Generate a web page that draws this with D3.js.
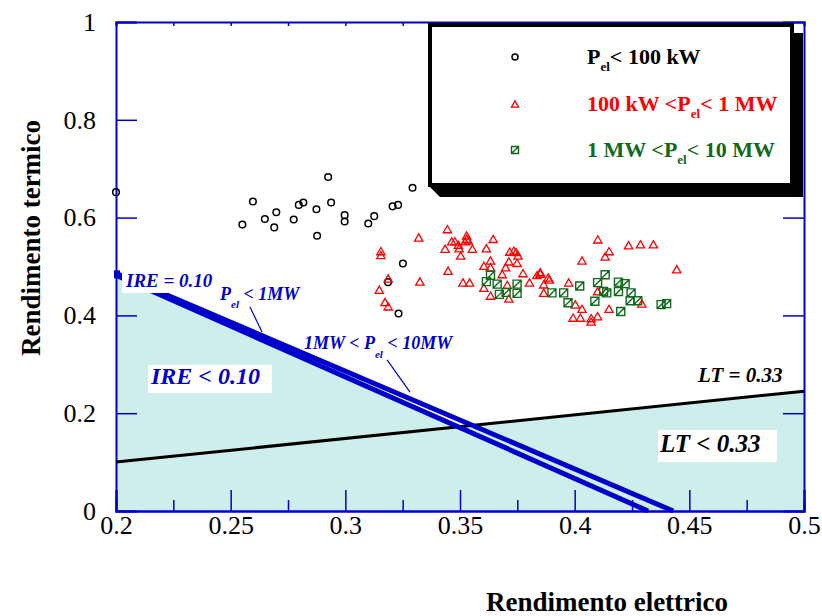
<!DOCTYPE html>
<html>
<head>
<meta charset="utf-8">
<script src="https://cdn.jsdelivr.net/npm/d3@7"></script>
<style>
  body { margin: 0; background: #fff; }
  svg text { font-family: "Liberation Serif", "Times New Roman", serif; }
</style>
</head>
<body>
<div id="chart"></div>
<script>
(function() {

    var width = 822;
    var height = 616;

    // --- data ---
    var xTicks = [0.2, 0.25, 0.3, 0.35, 0.4, 0.45, 0.5];
    var xMinor = [0.225, 0.275, 0.325, 0.375, 0.425, 0.475];
    var yTicks = [0, 0.2, 0.4, 0.6, 0.8, 1];

    var small = [ // P_el < 100 kW
        [0.200,0.652],[0.2925,0.683],[0.3293,0.661],[0.2597,0.633],[0.2817,0.631],
        [0.2797,0.626],[0.2938,0.631],[0.2874,0.617],[0.2699,0.611],[0.2649,0.597],
        [0.2775,0.596],[0.2997,0.605],[0.2997,0.592],[0.2551,0.586],[0.2690,0.580],
        [0.2877,0.563],[0.3126,0.603],[0.3100,0.588],[0.3206,0.623],[0.3230,0.626],
        [0.3251,0.506],[0.3186,0.468],[0.3232,0.404]
    ];

    var medium = [ // 100 kW < P_el < 1 MW
        [0.3445,0.576],[0.3320,0.559],[0.3435,0.536],[0.3464,0.551],[0.3478,0.551],
        [0.3493,0.544],[0.3496,0.537],[0.3529,0.563],[0.3529,0.556],[0.3536,0.553],
        [0.3522,0.551],[0.3503,0.522],[0.3554,0.536],[0.3645,0.556],[0.3615,0.537],
        [0.3448,0.491],[0.3513,0.467],[0.3542,0.467],[0.3633,0.512],[0.3633,0.498],
        [0.3604,0.501],[0.3717,0.530],[0.3735,0.532],[0.3745,0.529],[0.3753,0.522],
        [0.3749,0.507],[0.3713,0.510],[0.3699,0.498],[0.3684,0.484],[0.3775,0.486],
        [0.3803,0.467],[0.3706,0.462],[0.3633,0.440],[0.3713,0.434],[0.3836,0.482],
        [0.3155,0.531],[0.3155,0.523],[0.3187,0.475],[0.3325,0.469],[0.3148,0.452],
        [0.3173,0.427],[0.3187,0.418],[0.3850,0.488],[0.3850,0.485],[0.3865,0.463],
        [0.3884,0.477],[0.3890,0.473],[0.3974,0.467],[0.3865,0.446],[0.3604,0.456],
        [0.4101,0.555],[0.4150,0.531],[0.4133,0.520],[0.4032,0.512],[0.4235,0.543],
        [0.4287,0.545],[0.4343,0.545],[0.4445,0.494],[0.4032,0.413],[0.3993,0.395],
        [0.4025,0.395],[0.4072,0.394],[0.4100,0.398],[0.4072,0.387],[0.4150,0.413],
        [0.4100,0.449],[0.4003,0.422],[0.4293,0.424]
    ];

    var large = [ // 1 MW < P_el < 10 MW
        [0.3633,0.482],[0.3615,0.469],[0.3662,0.464],[0.3749,0.464],[0.3672,0.443],
        [0.3701,0.447],[0.3749,0.445],[0.3901,0.446],[0.3952,0.446],[0.3971,0.426],
        [0.4022,0.460],[0.4133,0.483],[0.4100,0.467],[0.4140,0.446],[0.4126,0.449],
        [0.4191,0.468],[0.4220,0.465],[0.4191,0.449],[0.4246,0.446],[0.4242,0.430],
        [0.4275,0.430],[0.4088,0.429],[0.4201,0.408],[0.4377,0.422],[0.4401,0.424]
    ];

    var ireLow = [[0.2, 0.482], [0.432, 0]];   // IRE = 0.10, P_el < 1MW
    var ireHigh = [[0.2, 0.486], [0.443, 0]];  // IRE = 0.10, 1MW < P_el < 10MW
    var ltLine = [[0.2, 0.1], [0.5, 0.245]];   // LT = 0.33

    var blue = "#0000cc";
    var red = "#ff0000";
    var green = "#0f6a1c";
    var shade = "#cdeeea";

    var svg = d3.select("#chart")
    .append("svg")
    .attr("width", width)
    .attr("height", height);

    var x = d3.scaleLinear().domain([0.2, 0.5]).range([116, 804]);
    var y = d3.scaleLinear().domain([0, 1]).range([511, 22]);

    // shaded zone: below the IRE line or below the LT line
    function lineAt(seg, v) {
        var a = seg[0], b = seg[1];
        return a[1] + (b[1] - a[1]) * (v - a[0]) / (b[0] - a[0]);
    }
    var sIre = (ireLow[1][1] - ireLow[0][1]) / (ireLow[1][0] - ireLow[0][0]);
    var sLt = (ltLine[1][1] - ltLine[0][1]) / (ltLine[1][0] - ltLine[0][0]);
    var cross = (ltLine[0][1] - ireLow[0][1] + sIre * ireLow[0][0] - sLt * ltLine[0][0]) / (sIre - sLt);
    var zone = [[0.2, 0], ireLow[0], [cross, lineAt(ltLine, cross)], ltLine[1], [0.5, 0]];

    svg.append("path")
    .attr("d", d3.line().x(d => x(d[0])).y(d => y(d[1]))(zone) + "Z")
    .attr("fill", shade);

    // axes
    function styleAxis(g) {
        g.selectAll("path.domain").attr("stroke", blue).attr("stroke-width", 2);
        g.selectAll(".tick line").attr("stroke", blue).attr("stroke-width", 1.5);
        g.selectAll("text")
        .attr("font-family", "Liberation Serif, serif")
        .attr("font-size", 26)
        .attr("fill", "#000");
    }

    svg.append("g")
    .attr("transform", "translate(0," + y(0) + ")")
    .call(d3.axisBottom(x).tickValues(xMinor).tickSize(-11).tickFormat(""))
    .call(styleAxis);

    svg.append("g")
    .attr("transform", "translate(0," + y(0) + ")")
    .call(d3.axisBottom(x).tickValues(xTicks).tickSize(-21).tickPadding(5).tickFormat(d => d))
    .call(styleAxis);

    svg.append("g")
    .attr("transform", "translate(0," + y(1) + ")")
    .call(d3.axisTop(x).tickValues(xTicks.concat(xMinor)).tickSize(-4).tickFormat(""))
    .call(styleAxis);

    svg.append("g")
    .attr("transform", "translate(" + x(0.2) + ",0)")
    .call(d3.axisLeft(y).tickValues(yTicks).tickSize(-21).tickPadding(20).tickFormat(d => d))
    .call(styleAxis);

    svg.append("g")
    .attr("transform", "translate(" + x(0.5) + ",0)")
    .call(d3.axisRight(y).tickValues(yTicks.slice(1, 4)).tickSize(-21).tickFormat(""))
    .call(styleAxis);

    // reference lines
    var line = d3.line().x(d => x(d[0])).y(d => y(d[1]));

    svg.append("path").attr("d", line(ltLine))
    .attr("stroke", "#000").attr("stroke-width", 3).attr("fill", "none");

    [ireLow, ireHigh].forEach(function(seg) {
        svg.append("path").attr("d", line(seg))
        .attr("stroke", blue).attr("stroke-width", 5).attr("fill", "none");
    });

    svg.append("rect")
    .attr("x", x(0.2) - 2).attr("y", y(ireHigh[0][1]) - 3)
    .attr("width", 6).attr("height", 8).attr("fill", blue);

    // annotations
    var sans = "Liberation Sans, Arial, sans-serif";
    var serif = "Liberation Serif, serif";

    function boxText(tx, ty, bx, by, bw, bh, str, size, fam, col) {
        svg.append("rect").attr("x", bx).attr("y", by).attr("width", bw).attr("height", bh).attr("fill", "#fff");
        svg.append("text").attr("x", tx).attr("y", ty)
        .attr("font-family", fam).attr("font-weight", "bold").attr("font-style", "italic")
        .attr("font-size", size).attr("fill", col).text(str);
    }

    boxText(126, 287, 122, 271, 96, 22, "IRE = 0.10", 19, sans, blue);
    boxText(151, 384, 148, 365, 124, 28, "IRE  < 0.10", 24, sans, blue);
    boxText(660, 452, 658, 430, 119, 32, "LT < 0.33", 25, serif, "#000");

    svg.append("text").attr("x", 698).attr("y", 382)
    .attr("font-family", serif).attr("font-weight", "bold").attr("font-style", "italic")
    .attr("font-size", 21).text("LT = 0.33");

    function subLabel(tx, ty, parts, size) {
        var t = svg.append("text").attr("x", tx).attr("y", ty)
        .attr("font-family", sans).attr("font-weight", "bold").attr("font-style", "italic")
        .attr("font-size", size).attr("fill", blue);
        parts.forEach(function(p) {
            t.append("tspan").attr("dy", p[1]).attr("font-size", p[2] || size).text(p[0]);
        });
    }
    subLabel(220, 300, [["P", 0], ["el", 8, 11], [" < 1MW", -8]], 18);
    subLabel(304, 349, [["1MW < P", 0], ["el", 9, 11], ["  < 10MW", -9]], 18);

    var leaders = [[[0.2584, 0.417], [0.2637, 0.366]], [[0.3182, 0.309], [0.3282, 0.243]]];
    leaders.forEach(function(seg) {
        svg.append("path").attr("d", line(seg)).attr("stroke", blue).attr("stroke-width", 1.2);
    });

    // markers
    var tri = d3.symbol().type(d3.symbolTriangle).size(30);

    function squarePath(s) {
        return "M" + (-s) + "," + (-s) + "h" + (2 * s) + "v" + (2 * s) + "h" + (-2 * s) + "Z" +
            "M" + (-s) + "," + s + "L" + s + "," + (-s);
    }

    svg.append("g").selectAll("circle")
    .data(small)
    .enter().append("circle")
    .attr("cx", d => x(d[0])).attr("cy", d => y(d[1]))
    .attr("r", 3.3)
    .attr("fill", "none").attr("stroke", "#000").attr("stroke-width", 1.5);

    svg.append("g").selectAll("path")
    .data(medium)
    .enter().append("path")
    .attr("d", tri)
    .attr("transform", d => "translate(" + x(d[0]) + "," + (y(d[1]) + 1) + ")")
    .attr("fill", "none").attr("stroke", red).attr("stroke-width", 1.3);

    svg.append("g").selectAll("path")
    .data(large)
    .enter().append("path")
    .attr("d", squarePath(4))
    .attr("transform", d => "translate(" + x(d[0]) + "," + y(d[1]) + ")")
    .attr("fill", "none").attr("stroke", green).attr("stroke-width", 1.4);

    // legend
    svg.append("path")
    .attr("d", "M438,33 L803,33 L803,197 L440,197 L430,187 L438,187 Z")
    .attr("fill", "#000");
    svg.append("rect")
    .attr("x", 430).attr("y", 25).attr("width", 362).attr("height", 160)
    .attr("fill", "#fff").attr("stroke", "#000").attr("stroke-width", 4);

    var legendRows = [
        {color: "#000", kind: "circle", parts: [["P", 0], ["el", 7, 13], ["< 100 kW", -7]]},
        {color: red, kind: "tri", parts: [["100 kW <P", 0], ["el", 7, 13], ["< 1 MW", -7]]},
        {color: green, kind: "square", parts: [["1 MW <P", 0], ["el", 7, 13], ["< 10 MW", -7]]}
    ];
    var rowY = [57, 104, 150];

    legendRows.forEach(function(r, i) {
        var cy = rowY[i];
        if (r.kind === "circle") {
            svg.append("circle").attr("cx", 515).attr("cy", cy).attr("r", 3)
            .attr("fill", "none").attr("stroke", r.color).attr("stroke-width", 1.5);
        } else if (r.kind === "tri") {
            svg.append("path").attr("d", d3.symbol().type(d3.symbolTriangle).size(22))
            .attr("transform", "translate(515," + (cy + 1) + ")")
            .attr("fill", "none").attr("stroke", r.color).attr("stroke-width", 1.3);
        } else {
            svg.append("path").attr("d", squarePath(3.5))
            .attr("transform", "translate(515," + cy + ")")
            .attr("fill", "none").attr("stroke", r.color).attr("stroke-width", 1.4);
        }
        var t = svg.append("text").attr("x", 587).attr("y", cy + 7)
        .attr("font-weight", "bold").attr("font-size", 22).attr("fill", r.color);
        r.parts.forEach(function(p) {
            t.append("tspan").attr("dy", p[1]).attr("font-size", p[2] || 22).text(p[0]);
        });
    });

    // axis titles
    svg.append("text")
    .attr("x", 607).attr("y", 611)
    .attr("text-anchor", "middle")
    .attr("font-weight", "bold").attr("font-size", 27)
    .text("Rendimento elettrico");

    svg.append("text")
    .attr("transform", "translate(40,238) rotate(-90)")
    .attr("text-anchor", "middle")
    .attr("font-weight", "bold").attr("font-size", 27)
    .text("Rendimento termico");

})();
</script>
</body>
</html>
